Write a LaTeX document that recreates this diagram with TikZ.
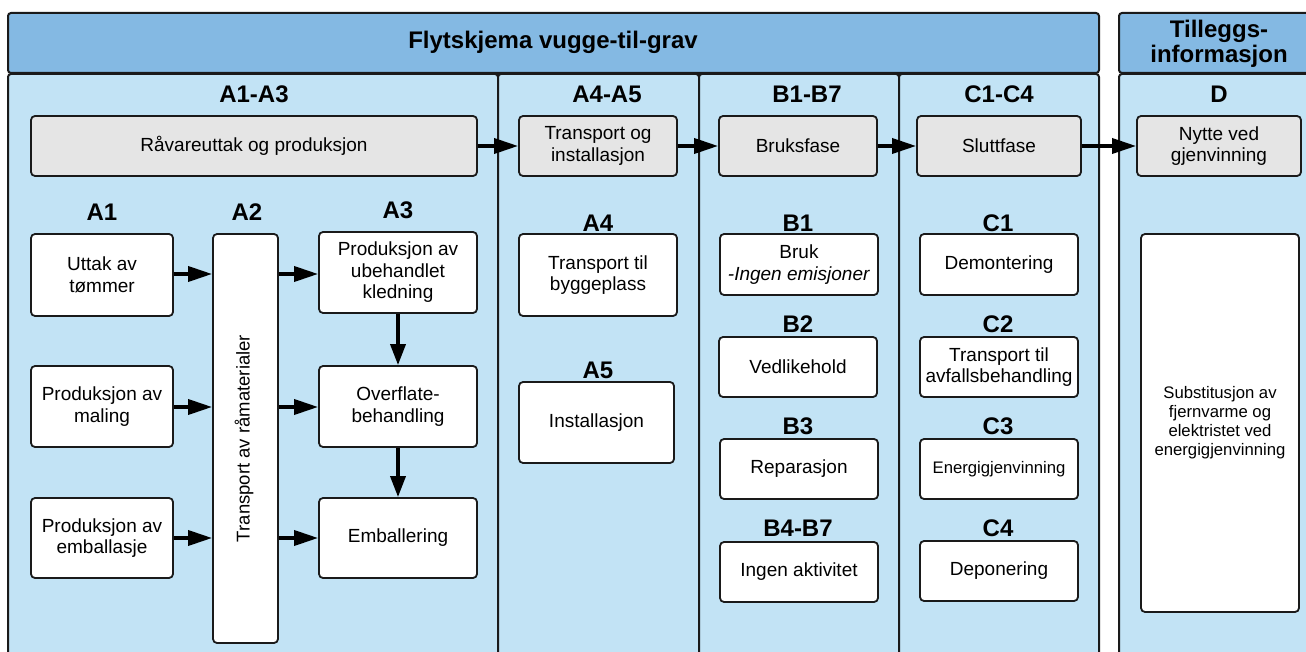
\documentclass[tikz,border=0pt]{standalone}
\usepackage{fontspec}
\setmainfont{Liberation Sans}
\usetikzlibrary{arrows.meta}
\definecolor{hdr}{HTML}{84B9E3}
\definecolor{pnl}{HTML}{C2E3F5}
\definecolor{gbox}{HTML}{E5E5E5}
\definecolor{ink}{HTML}{1A1A1A}
\begin{document}
\begin{tikzpicture}[x=1pt,y=-1pt,
  panel/.style={draw=ink, line width=2pt, fill=pnl, rounded corners=3pt},
  header/.style={draw=ink, line width=2pt, fill=hdr, rounded corners=3pt},
  phase/.style={draw=ink, line width=1.8pt, fill=gbox, rounded corners=4pt, inner sep=0pt,
    align=center, font=\fontsize{19}{21.5}\selectfont},
  wbox/.style={draw=ink, line width=1.8pt, fill=white, rounded corners=4pt, inner sep=0pt,
    align=center, font=\fontsize{19}{21.5}\selectfont},
  smalltext/.style={font=\fontsize{16.7}{19}\selectfont},
  lbl/.style={font=\bfseries\fontsize{24}{25}\selectfont, inner sep=0pt, align=center},
  arr/.style={draw=black, line width=3.6pt, -{Triangle[length=24pt,width=15pt]}},
  varr/.style={draw=black, line width=3.6pt, -{Triangle[length=21pt,width=15pt]}}
]
\useasboundingbox (0,0) rectangle (1306,652);
\clip (0,0) rectangle (1306,652);

% headers
\path[header] (8,13) rectangle (1099,73);
\path[header] (1119,13) rectangle (1330,73);
\node[lbl] (title) at (553,42) {Flytskjema vugge-til-grav};
\node[lbl] (tillegg) at (1219,44) {Tilleggs-\\informasjon};

% panels
\path[panel] (8,74) rectangle (498,700);
\path[panel] (498,74) rectangle (699,700);
\path[panel] (699,74) rectangle (899,700);
\path[panel] (899,74) rectangle (1099,700);
\path[panel] (1119,74) rectangle (1330,700);

% panel headings
\node[lbl] (hA13) at (254,94) {A1-A3};
\node[lbl] (hA45) at (607,94) {A4-A5};
\node[lbl] (hB17) at (807,94) {B1-B7};
\node[lbl] (hC14) at (999,94) {C1-C4};
\node[lbl] (hD) at (1219,94) {D};

% phase boxes
\node[phase, minimum width=446, minimum height=60] (raw) at (254,146) {Råvareuttak og produksjon};
\node[phase, minimum width=158, minimum height=60] (trans) at (598,146) {Transport og\\installasjon};
\node[phase, minimum width=158, minimum height=60] (bruks) at (798,146) {Bruksfase};
\node[phase, minimum width=164, minimum height=60] (slutt) at (999,146) {Sluttfase};
\node[phase, minimum width=164, minimum height=60] (nytte) at (1219,146) {Nytte ved\\gjenvinning};

\draw[arr] (raw.east) -- (trans.west);
\draw[arr] (trans.east) -- (bruks.west);
\draw[arr] (bruks.east) -- (slutt.west);
\draw[arr] (slutt.east) -- (nytte.west);

% sub labels
\node[lbl] (lA1) at (102,212) {A1};
\node[lbl] (lA2) at (247,212) {A2};
\node[lbl] (lA3) at (398,210) {A3};
\node[lbl] (lA4) at (598,223) {A4};
\node[lbl] (lA5) at (598,370) {A5};
\node[lbl] (lB1) at (798,223) {B1};
\node[lbl] (lB2) at (798,324) {B2};
\node[lbl] (lB3) at (798,426) {B3};
\node[lbl] (lB4) at (798,528) {B4-B7};
\node[lbl] (lC1) at (998,223) {C1};
\node[lbl] (lC2) at (998,324) {C2};
\node[lbl] (lC3) at (998,426) {C3};
\node[lbl] (lC4) at (998,528) {C4};

% A1-A3
\node[wbox, minimum width=142, minimum height=82] (a1a) at (102,275) {Uttak av\\tømmer};
\node[wbox, minimum width=142, minimum height=81] (a1b) at (102,406.5) {Produksjon av\\maling};
\node[wbox, minimum width=142, minimum height=80] (a1c) at (102,538) {Produksjon av\\emballasje};
\node[wbox, minimum width=65, minimum height=409] (a2) at (245.5,438.5) {};
\node[rotate=90, font=\fontsize{18.5}{21}\selectfont, inner sep=0pt] (a2t) at (244,438.5) {Transport av råmaterialer};
\node[wbox, minimum width=158, minimum height=81] (a3a) at (398,272.5) {Produksjon av\\ubehandlet\\kledning};
\node[wbox, minimum width=158, minimum height=81] (a3b) at (398,406.5) {Overflate-\\behandling};
\node[wbox, minimum width=158, minimum height=80] (a3c) at (398,538) {Emballering};

\draw[arr] (a1a.east |- 0,274) -- (a2.west |- 0,274);
\draw[arr] (a1b.east |- 0,407) -- (a2.west |- 0,407);
\draw[arr] (a1c.east |- 0,538) -- (a2.west |- 0,538);
\draw[arr] (a2.east |- 0,274) -- (a3a.west |- 0,274);
\draw[arr] (a2.east |- 0,407) -- (a3b.west |- 0,407);
\draw[arr] (a2.east |- 0,538) -- (a3c.west |- 0,538);
\draw[varr] (a3a.south) -- (a3b.north);
\draw[varr] (a3b.south) -- (a3c.north);

% A4-A5
\node[wbox, minimum width=158, minimum height=82] (a4) at (598,275) {Transport til\\byggeplass};
\node[wbox, minimum width=155, minimum height=81] (a5) at (596.5,422.5) {Installasjon};

% B
\node[wbox, minimum width=158, minimum height=61] (b1) at (799,264.5) {Bruk\\\textit{-Ingen emisjoner}};
\node[wbox, minimum width=158, minimum height=60] (b2) at (798,367) {Vedlikehold};
\node[wbox, minimum width=158, minimum height=60] (b3) at (799,469) {Reparasjon};
\node[wbox, minimum width=158, minimum height=60] (b4) at (799,572) {Ingen aktivitet};

% C
\node[wbox, minimum width=158, minimum height=61] (c1) at (999,264.5) {Demontering};
\node[wbox, minimum width=158, minimum height=60] (c2) at (999,367) {Transport til\\avfallsbehandling};
\node[wbox, minimum width=158, minimum height=60, smalltext] (c3) at (999,469) {Energigjenvinning};
\node[wbox, minimum width=158, minimum height=60] (c4) at (999,571) {Deponering};

% D
\node[wbox, minimum width=158, minimum height=378, smalltext] (d) at (1220,423) {Substitusjon av\\fjernvarme og\\elektristet ved\\energigjenvinning};
\end{tikzpicture}
\end{document}
